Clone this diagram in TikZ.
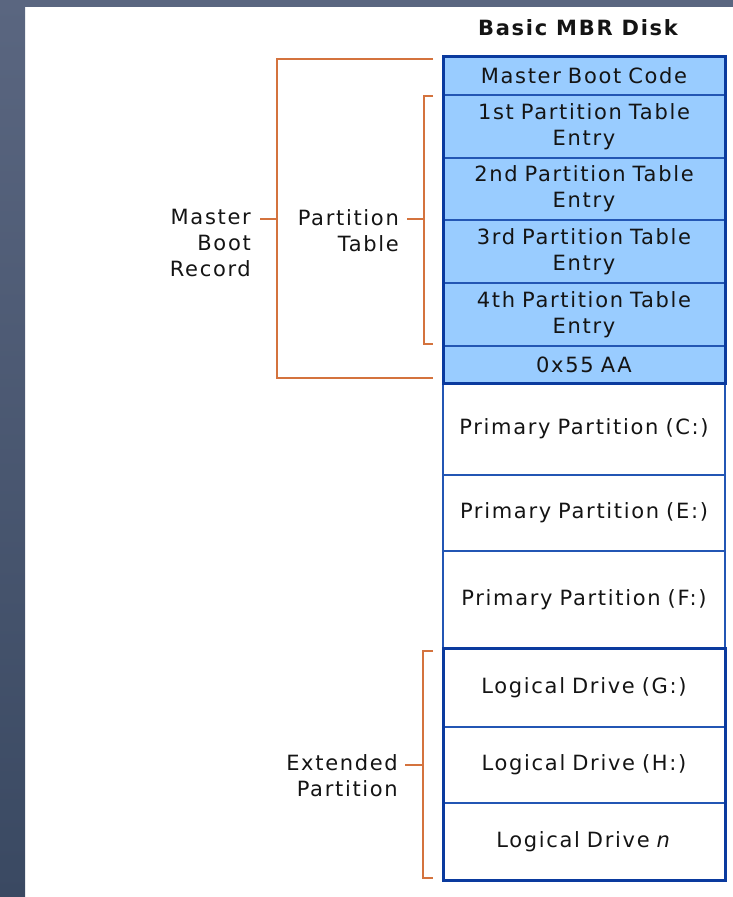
\documentclass[tikz,border=0pt]{standalone}
\usepackage{fontspec}
\setmainfont[LetterSpace=8]{DejaVu Sans}
\definecolor{frameblue}{HTML}{0A3A9E}
\definecolor{lineblue}{HTML}{2356B4}
\definecolor{cellfill}{HTML}{99CCFF}
\definecolor{bracketorange}{HTML}{D4733E}
\definecolor{edgetop}{HTML}{5A6680}
\definecolor{edgebottom}{HTML}{3A4962}
\definecolor{inktext}{HTML}{141414}
\begin{document}
\begin{tikzpicture}[x=1pt,y=-1pt,
  txt/.style={font=\fontsize{21}{26}\selectfont, text=inktext},
  cell/.style={txt, draw=lineblue, line width=1.5pt, anchor=north west,
    minimum width=282pt, inner sep=0pt, outer sep=0pt, text width=280pt, align=center},
  mbrcell/.style={cell, fill=cellfill},
  groupframe/.style={draw=frameblue, line width=3pt},
  bracket/.style={draw=bracketorange, line width=2.8pt},
  sidelabel/.style={txt, align=right, anchor=north east, inner sep=0pt}]
\useasboundingbox (0,0) rectangle (733,897);

% page edges
\shade[top color=edgetop, bottom color=edgebottom] (0,0) rectangle (25,897);
\fill[edgetop] (0,0) rectangle (733,7);

% title
\node[txt, font=\fontsize{21}{26}\selectfont\bfseries] (title) at (578,28) {Basic MBR Disk};

% master boot record
\node[mbrcell, minimum height=39pt] (mbc) at (443,56) {Master Boot Code};
\node[mbrcell, minimum height=63pt] (pt1) at (443,95) {1st Partition Table\\Entry};
\node[mbrcell, minimum height=62pt] (pt2) at (443,158) {2nd Partition Table\\Entry};
\node[mbrcell, minimum height=63pt] (pt3) at (443,220) {3rd Partition Table\\Entry};
\node[mbrcell, minimum height=63pt] (pt4) at (443,283) {4th Partition Table\\Entry};
\node[mbrcell, minimum height=37pt] (sig) at (443,346) {0x55 AA};

% primary partitions
\node[cell, minimum height=92pt] (pc) at (443,383) {Primary Partition (C:)};
\node[cell, minimum height=76pt] (pe) at (443,475) {Primary Partition (E:)};
\node[cell, minimum height=97pt] (pf) at (443,551) {Primary Partition (F:)};

% logical drives
\node[cell, minimum height=79pt] (lg) at (443,648) {Logical Drive (G:)};
\node[cell, minimum height=76pt] (lh) at (443,727) {Logical Drive (H:)};
\node[cell, minimum height=77pt] (ln) at (443,803) {Logical Drive \textit{n}};

% group frames
\draw[groupframe] (mbc.north west) rectangle (sig.south east);
\draw[groupframe] (lg.north west) rectangle (ln.south east);

% side labels
\node[sidelabel] (mbrlbl) at (251,209) {Master\\Boot\\Record};
\node[sidelabel] (ptlbl) at (399,209) {Partition\\Table};
\node[sidelabel] (extlbl) at (398,754) {Extended\\Partition};

% brackets
\coordinate (mbrtop) at (433,59);
\coordinate (mbrbot) at (433,378);
\coordinate (mbrmid) at (277,219);
\draw[bracket] (mbrtop) -- (277,59) -- (277,378) -- (mbrbot);
\draw[bracket] (260,219) -- (mbrmid);

\coordinate (pttop) at (433,96);
\coordinate (ptbot) at (433,344);
\coordinate (ptmid) at (424,219);
\draw[bracket] (pttop) -- (424,96) -- (424,344) -- (ptbot);
\draw[bracket] (407,219) -- (ptmid);

\coordinate (exttop) at (433,651);
\coordinate (extbot) at (433,878);
\coordinate (extmid) at (423,765);
\draw[bracket] (exttop) -- (423,651) -- (423,878) -- (extbot);
\draw[bracket] (405,765) -- (extmid);
\end{tikzpicture}
\end{document}
